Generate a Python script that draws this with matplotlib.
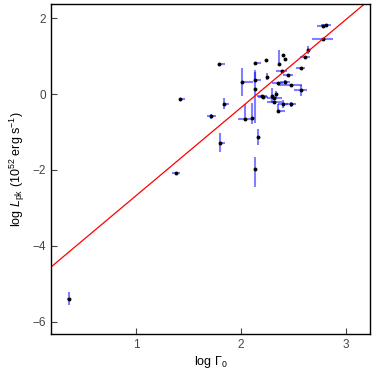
import numpy as np
import matplotlib
matplotlib.use('Agg')
import matplotlib.pyplot as plt

plt.rcParams['font.family'] = ['Liberation Sans', 'DejaVu Sans']
plt.rcParams['mathtext.fontset'] = 'custom'
plt.rcParams['mathtext.rm'] = 'Liberation Sans'
plt.rcParams['mathtext.it'] = 'Liberation Sans:italic'

# log Gamma_0 and log L_pk with errors
log_gamma = [1.42, 1.79, 2.14, 2.24, 2.36, 2.40, 2.42, 2.64, 2.61, 2.78,
             2.81, 2.78, 2.57, 2.39, 2.45, 2.25, 2.42, 2.35, 2.01, 2.14,
             2.14, 2.48, 2.57, 2.20, 2.21, 2.30, 2.34, 2.32, 2.32, 2.40,
             2.48, 2.35, 1.84, 1.72, 2.04, 2.11, 2.16, 1.80, 2.14, 1.38,
             0.365]
log_lpk = [-0.14, 0.79, 0.83, 0.91, 0.80, 1.02, 0.93, 1.16, 0.98, 1.79,
           1.81, 1.45, 0.70, 0.61, 0.51, 0.46, 0.32, 0.29, 0.32, 0.37,
           0.14, 0.23, 0.10, -0.05, -0.09, -0.04, -0.01, -0.11, -0.20, -0.26,
           -0.27, -0.45, -0.25, -0.59, -0.66, -0.64, -1.13, -1.28, -1.97, -2.08,
           -5.39]
xerr_lo = [0.00, 0.00, 0.00, 0.00, 0.00, 0.00, 0.00, 0.00, 0.05, 0.05,
           0.05, 0.10, 0.04, 0.05, 0.05, 0.00, 0.05, 0.05, 0.00, 0.00,
           0.00, 0.13, 0.06, 0.05, 0.05, 0.00, 0.00, 0.07, 0.07, 0.05,
           0.05, 0.00, 0.00, 0.04, 0.07, 0.00, 0.00, 0.00, 0.00, 0.04,
           0.02]
xerr_hi = [0.05, 0.06, 0.05, 0.00, 0.00, 0.00, 0.00, 0.00, 0.05, 0.05,
           0.05, 0.10, 0.04, 0.05, 0.05, 0.00, 0.05, 0.05, 0.11, 0.05,
           0.00, 0.10, 0.06, 0.05, 0.05, 0.00, 0.00, 0.07, 0.07, 0.05,
           0.05, 0.07, 0.05, 0.04, 0.07, 0.00, 0.00, 0.05, 0.00, 0.04,
           0.02]
yerr_lo = [0.00, 0.00, 0.00, 0.00, 0.00, 0.00, 0.00, 0.10, 0.00, 0.00,
           0.00, 0.00, 0.00, 0.00, 0.00, 0.10, 0.05, 0.00, 0.37, 0.00,
           0.90, 0.00, 0.15, 0.00, 0.00, 0.20, 0.10, 0.00, 0.00, 0.10,
           0.07, 0.00, 0.15, 0.06, 0.05, 0.15, 0.20, 0.25, 0.48, 0.00,
           0.17]
yerr_hi = [0.00, 0.00, 0.00, 0.00, 0.36, 0.00, 0.00, 0.10, 0.00, 0.00,
           0.00, 0.00, 0.00, 0.00, 0.00, 0.10, 0.05, 0.00, 0.37, 0.20,
           0.50, 0.00, 0.15, 0.00, 0.00, 0.20, 0.10, 0.00, 0.00, 0.10,
           0.07, 0.20, 0.15, 0.06, 0.40, 0.40, 0.20, 0.25, 0.32, 0.00,
           0.17]

# best-fit relation log L = slope * log Gamma + intercept
slope = 2.32
intercept = -5.0

fig = plt.figure(figsize=(3.74, 3.74), dpi=100)
ax = fig.add_axes([0.136, 0.107, 0.853, 0.882])

ax.errorbar(log_gamma, log_lpk, xerr=[xerr_lo, xerr_hi], yerr=[yerr_lo, yerr_hi],
            fmt='none', ecolor='blue', alpha=0.5, elinewidth=1.5, capsize=0)
ax.plot(log_gamma, log_lpk, 'o', color='black', ms=2.8, mew=0)

xx = np.array([0.19, 3.23])
ax.plot(xx, slope * xx + intercept, color='red', lw=0.9)

ax.set_xlim(0.19, 3.23)
ax.set_ylim(-6.32, 2.37)
ax.set_xticks([1, 2, 3])
ax.set_yticks([-6, -4, -2, 0, 2])
ax.set_yticklabels(['\u22126', '\u22124', '\u22122', '0', '2'])
ax.tick_params(direction='in', length=4, width=0.8, labelsize=8.5,
               labelcolor='#444444', color='#444444')
for s in ax.spines.values():
    s.set_linewidth(1.0)

ax.set_xlabel(r'log $\Gamma_0$', fontsize=9, labelpad=2)
ax.set_ylabel(r'log $L_{\rm pk}$ (10$^{52}$ erg s$^{-1}$)', fontsize=9)

fig.savefig('out.png', dpi=100)
